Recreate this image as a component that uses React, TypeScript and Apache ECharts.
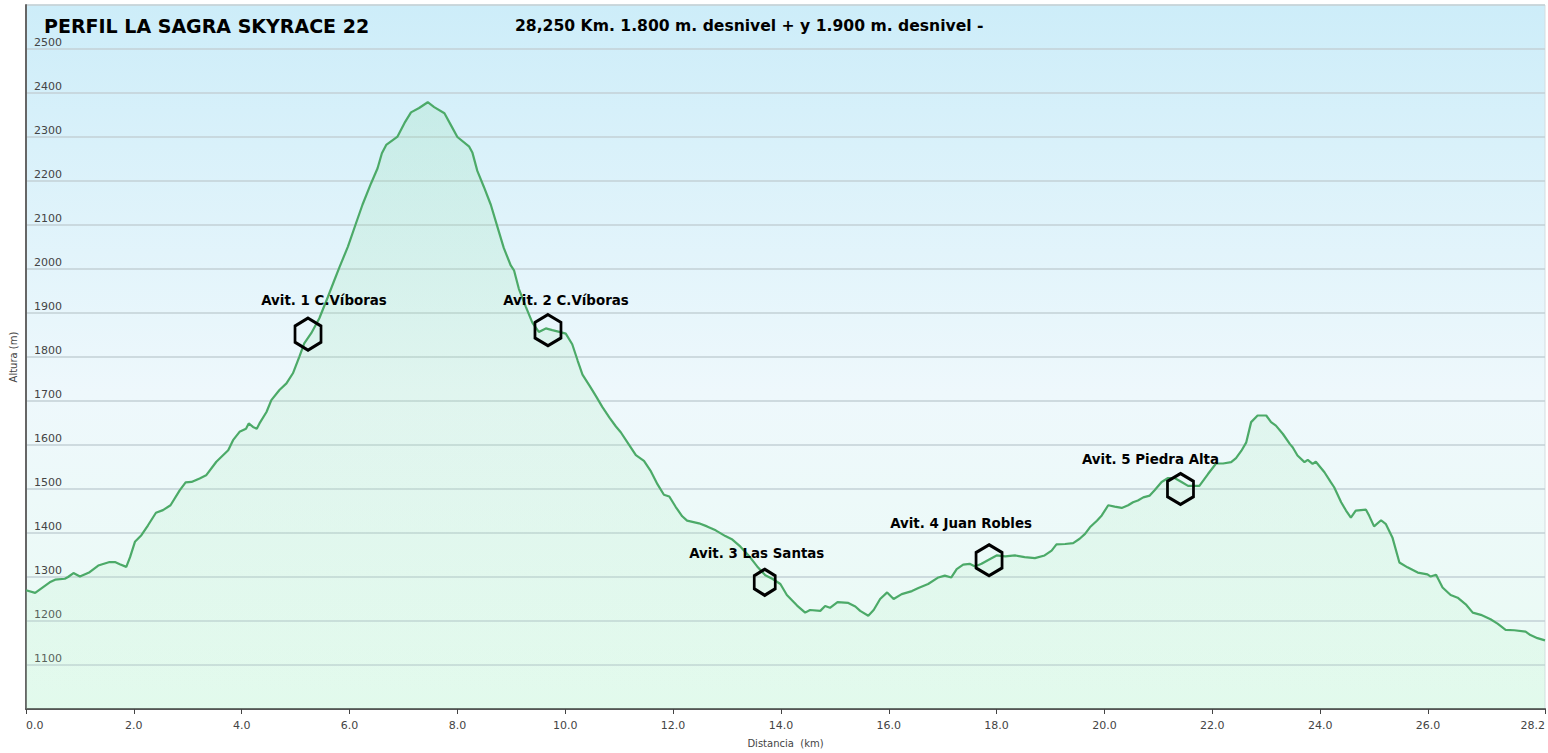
import React, { useEffect, useRef } from "react";
import * as echarts from "echarts";

const distanceKm = [
  0.0, 0.17, 0.44, 0.54, 0.72, 0.78, 0.88, 1.0, 1.18, 1.34, 1.55, 1.65, 1.74, 1.86, 1.93, 2.02, 2.14, 2.26, 2.41,
  2.54, 2.68, 2.85, 2.96, 3.07, 3.22, 3.34, 3.53, 3.75, 3.84, 3.96, 4.08, 4.13, 4.21, 4.28, 4.33, 4.46, 4.55, 4.7,
  4.83, 4.95, 5.07, 5.16, 5.29, 5.44, 5.6, 5.72, 5.81, 5.97, 6.12, 6.24, 6.4, 6.52, 6.6, 6.68, 6.89, 7.02, 7.14,
  7.29, 7.45, 7.57, 7.76, 7.88, 8.0, 8.22, 8.28, 8.37, 8.49, 8.62, 8.74, 8.86, 8.99, 9.05, 9.14, 9.27, 9.39, 9.51,
  9.64, 9.76, 9.89, 10.01, 10.13, 10.23, 10.32, 10.45, 10.57, 10.69, 10.82, 10.94, 11.03, 11.16, 11.31, 11.46,
  11.59, 11.71, 11.83, 11.93, 12.05, 12.17, 12.26, 12.48, 12.63, 12.79, 12.97, 13.1, 13.25, 13.4, 13.56, 13.71,
  13.84, 13.99, 14.11, 14.3, 14.45, 14.54, 14.73, 14.82, 14.91, 15.05, 15.25, 15.38, 15.47, 15.62, 15.72, 15.84,
  15.97, 16.09, 16.24, 16.43, 16.55, 16.73, 16.92, 17.04, 17.16, 17.26, 17.38, 17.5, 17.6, 17.72, 17.88, 18.0,
  18.16, 18.34, 18.52, 18.71, 18.89, 19.02, 19.11, 19.27, 19.42, 19.54, 19.64, 19.73, 19.86, 19.95, 20.07, 20.19,
  20.32, 20.44, 20.53, 20.62, 20.72, 20.84, 20.93, 21.06, 21.18, 21.3, 21.43, 21.55, 21.76, 21.92, 22.07, 22.2,
  22.35, 22.44, 22.54, 22.63, 22.72, 22.84, 23.0, 23.09, 23.18, 23.31, 23.44, 23.49, 23.58, 23.71, 23.77, 23.86,
  23.92, 24.08, 24.2, 24.26, 24.39, 24.48, 24.57, 24.66, 24.85, 24.91, 25.0, 25.13, 25.22, 25.34, 25.47, 25.62,
  25.81, 25.99, 26.05, 26.15, 26.27, 26.42, 26.55, 26.7, 26.83, 26.98, 27.16, 27.29, 27.44, 27.6, 27.81, 27.9,
  28.03, 28.17,
];

const altitudeM = [
  1270, 1264, 1288, 1294, 1296, 1300, 1309, 1301, 1311, 1326, 1334, 1334, 1329, 1323, 1345, 1380, 1395, 1417, 1446,
  1452, 1463, 1497, 1515, 1516, 1524, 1531, 1562, 1588, 1611, 1630, 1637, 1649, 1641, 1637, 1649, 1675, 1702, 1725,
  1740, 1763, 1801, 1831, 1854, 1888, 1937, 1975, 2003, 2051, 2104, 2146, 2195, 2229, 2263, 2282, 2301, 2332, 2356,
  2366, 2379, 2368, 2354, 2327, 2300, 2278, 2264, 2223, 2187, 2146, 2097, 2048, 2008, 1997, 1955, 1914, 1878, 1857,
  1865, 1861, 1857, 1853, 1829, 1792, 1760, 1735, 1711, 1686, 1662, 1642, 1629, 1605, 1577, 1564,
  1540, 1511, 1487, 1483, 1459, 1438, 1428, 1422, 1415, 1406, 1393, 1385, 1369, 1349, 1324, 1304,
  1296, 1284, 1259, 1235, 1219, 1225, 1223, 1234, 1230, 1243, 1241, 1233, 1223, 1212, 1225, 1250,
  1265, 1250, 1261, 1268, 1275, 1284, 1299, 1303, 1299, 1318, 1328, 1330, 1324, 1330, 1341, 1349,
  1347, 1349, 1345, 1343, 1349, 1360, 1374, 1375, 1377, 1387, 1398, 1413, 1428, 1440, 1463, 1460,
  1457, 1463, 1470, 1474, 1481, 1485, 1497, 1516, 1525, 1525, 1516, 1507, 1507, 1534, 1558, 1558,
  1561, 1570, 1587, 1606, 1652, 1667, 1667, 1652, 1644, 1625, 1602, 1595, 1576, 1561, 1566, 1557,
  1562, 1538, 1515, 1504, 1470, 1451, 1435, 1451, 1453, 1439, 1415, 1429, 1420, 1390, 1333, 1322,
  1310, 1306, 1301, 1305, 1276, 1259, 1253, 1238, 1219, 1214, 1204, 1194, 1180, 1179, 1176, 1168,
  1161, 1156,
];

const stationNames = [
  "Avit. 1 C.Víboras",
  "Avit. 2 C.Víboras",
  "Avit. 3 Las Santas",
  "Avit. 4 Juan Robles",
  "Avit. 5 Piedra Alta",
];
const stationKm = [5.23, 9.68, 13.7, 17.86, 21.41];
const stationAltitude = [1852, 1861, 1288, 1338, 1500];

const xTickValues = [0, 2, 4, 6, 8, 10, 12, 14, 16, 18, 20, 22, 24, 26, 28.17];

const titleText = "PERFIL LA SAGRA SKYRACE 22";
const subtitleText = "28,250 Km. 1.800 m. desnivel + y 1.900 m. desnivel -";

// styling for station markers (label placement relative to hexagon)
const stationLabelOffsets = [
  [16, -34],
  [18, -30],
  [-8, -29],
  [-28, -37],
  [-30, -30],
];
const stationSymbolSizes = [
  [26, 32],
  [26, 31],
  [21, 26],
  [26, 31],
  [26, 31],
];

const HEX = "path://M0,-1 L0.866,-0.5 L0.866,0.5 L0,1 L-0.866,0.5 L-0.866,-0.5 Z";

export default function App() {
  const ref = useRef<HTMLDivElement>(null);

  useEffect(() => {
    document.body.style.margin = "0";
    const chart = echarts.init(ref.current!, null, { renderer: "svg" });

    const profile = distanceKm.map((d, i) => [d, altitudeM[i]]);
    const stations = stationNames.map((name, i) => ({
      name,
      value: [stationKm[i], stationAltitude[i]],
      symbolSize: stationSymbolSizes[i],
      label: { offset: stationLabelOffsets[i] },
    }));

    chart.setOption({
      animation: false,
      backgroundColor: "#ffffff",
      grid: {
        left: 26,
        right: 0,
        top: 5,
        bottom: 44,
        show: true,
        borderColor: "#d5dde0",
        borderWidth: 1,
        backgroundColor: new echarts.graphic.LinearGradient(0, 0, 0, 1, [
          { offset: 0, color: "#cdedf9" },
          { offset: 0.55, color: "#eef8fc" },
          { offset: 1, color: "#eafbf3" },
        ]),
      },
      graphic: [
        {
          type: "text",
          x: 44,
          y: 26,
          z: 10,
          style: {
            text: titleText,
            font: 'bold 19px "DejaVu Sans", sans-serif',
            fill: "#000",
            verticalAlign: "middle",
          },
        },
        {
          type: "text",
          x: 515,
          y: 26,
          z: 10,
          style: {
            text: subtitleText,
            font: 'bold 15.6px "DejaVu Sans", sans-serif',
            fill: "#000",
            verticalAlign: "middle",
          },
        },
      ],
      xAxis: {
        type: "value",
        min: 0,
        max: 28.17,
        interval: 2,
        name: "Distancia  (km)",
        nameLocation: "middle",
        nameGap: 29,
        nameTextStyle: { fontSize: 10, color: "#444", fontFamily: "DejaVu Sans" },
        axisLine: { show: true, lineStyle: { color: "#555", width: 2 } },
        axisTick: { show: true, length: 5, lineStyle: { color: "#444" }, customValues: xTickValues },
        axisLabel: {
          customValues: xTickValues,
          formatter: (v: number) => v.toFixed(1),
          color: "#444",
          fontSize: 11,
          fontFamily: "DejaVu Sans",
          margin: 11,
          alignMinLabel: "left",
          alignMaxLabel: "right",
        },
        splitLine: { show: false },
      },
      yAxis: {
        type: "value",
        min: 1000,
        max: 2600,
        interval: 100,
        name: "Altura (m)",
        nameLocation: "middle",
        nameGap: 2,
        nameTextStyle: { fontSize: 10, color: "#444", fontFamily: "DejaVu Sans" },
        axisLine: { show: true, lineStyle: { color: "#666", width: 2 } },
        axisTick: { show: false },
        axisLabel: {
          inside: true,
          showMinLabel: false,
          showMaxLabel: false,
          formatter: (v: number) => String(v),
          color: "#444",
          fontSize: 11,
          fontFamily: "DejaVu Sans",
          margin: 8,
          verticalAlign: "bottom",
          padding: [0, 0, 1, 0],
        },
        splitLine: { show: true, lineStyle: { color: "#c3d1d6", width: 1.5 } },
      },
      series: [
        {
          type: "line",
          data: profile,
          showSymbol: false,
          smooth: false,
          lineStyle: { color: "#4caa68", width: 2.2 },
          areaStyle: {
            color: new echarts.graphic.LinearGradient(0, 0, 0, 1, [
              { offset: 0, color: "rgba(140,220,160,0.28)" },
              { offset: 1, color: "rgba(190,245,205,0.25)" },
            ]),
          },
          emphasis: { disabled: true },
          silent: true,
          z: 2,
        },
        {
          type: "scatter",
          data: stations,
          symbol: HEX,
          itemStyle: { color: "rgba(0,0,0,0)", borderColor: "#000", borderWidth: 3, opacity: 1 },
          label: {
            show: true,
            position: "inside",
            formatter: "{b}",
            color: "#000",
            fontWeight: "bold",
            fontSize: 13.4,
            fontFamily: '"DejaVu Sans", sans-serif',
          },
          emphasis: { disabled: true },
          silent: true,
          z: 5,
        },
      ],
    });

    return () => chart.dispose();
  }, []);

  return <div ref={ref} style={{ width: 1548, height: 753 }} />;
}
